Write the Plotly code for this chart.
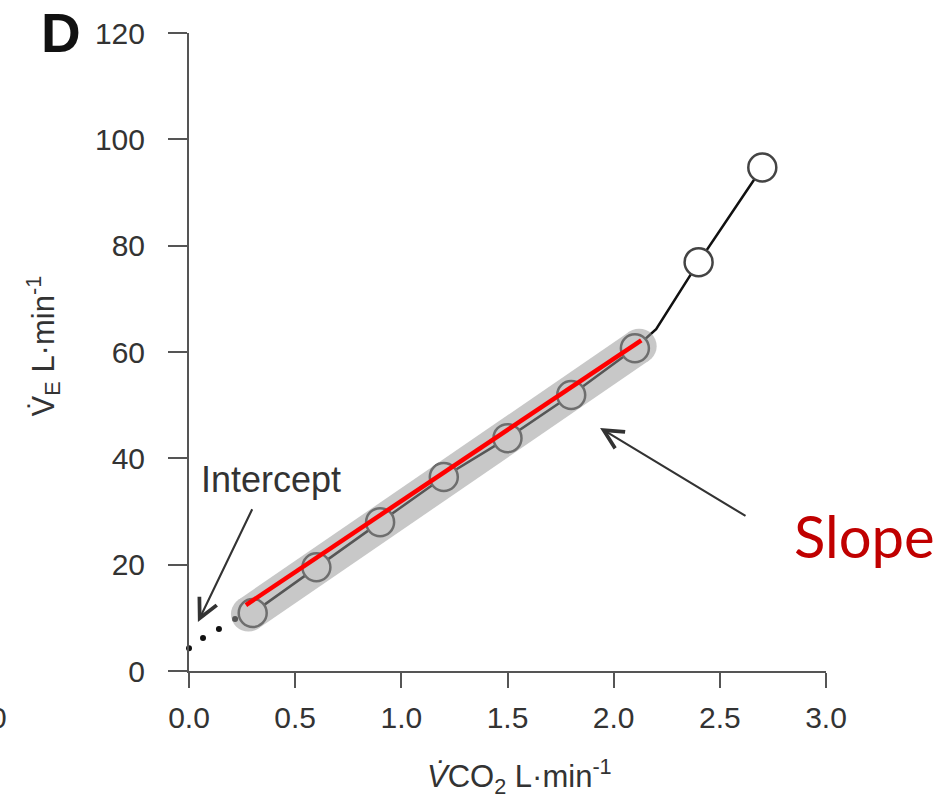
import plotly.graph_objects as go

# ---- data ----
vco2 = [0.3, 0.6, 0.9, 1.2, 1.5, 1.8, 2.1, 2.4, 2.7]
ve = [10.9, 19.5, 28.0, 36.5, 43.8, 51.9, 60.7, 76.9, 94.7]
n_linear = 7  # points inside the shaded linear region

# bend of the connecting line just after the linear region
bend_x = [2.2]
bend_y = [64.3]

# dotted extrapolation toward the intercept
dots_x = [0.0, 0.066, 0.141, 0.217]
dots_y = [4.3, 6.2, 7.9, 9.8]

# fitted slope line (red) and shaded band
fit_x = [0.268, 2.13]
fit_y = [12.4, 62.2]
band_x = [0.28, 2.12]
band_y = [10.7, 61.1]

x_ticks = [0.0, 0.5, 1.0, 1.5, 2.0, 2.5, 3.0]
x_ticklabels = ["0.0", "0.5", "1.0", "1.5", "2.0", "2.5", "3.0"]
y_ticks = [0, 20, 40, 60, 80, 100, 120]

# arrows: (tail_x, tail_y) -> (tip_x, tip_y)
intercept_arrow = dict(tip=(0.042, 9.2), tail=(0.301, 30.7))
slope_arrow = dict(tip=(1.936, 45.7), tail=(2.628, 29.0))

FONT = "Liberation Sans, Arial, sans-serif"
AX = "#555555"
TXT = "#333333"

line_x = vco2[:n_linear] + bend_x + vco2[n_linear:]
line_y = ve[:n_linear] + bend_y + ve[n_linear:]

fig = go.Figure()

# dotted extrapolation
fig.add_trace(go.Scatter(x=dots_x, y=dots_y, mode="markers",
                         marker=dict(size=6, color="#111111"),
                         cliponaxis=False, hoverinfo="skip", showlegend=False))

# connecting black line
fig.add_trace(go.Scatter(x=line_x, y=line_y, mode="lines",
                         line=dict(color="#111111", width=2.5),
                         hoverinfo="skip", showlegend=False))

# open circles
fig.add_trace(go.Scatter(x=vco2, y=ve, mode="markers",
                         marker=dict(size=28, color="white",
                                     line=dict(color="#444444", width=2.5)),
                         cliponaxis=False, hoverinfo="skip", showlegend=False))

# translucent gray band over the linear region
fig.add_trace(go.Scatter(x=band_x, y=band_y, mode="lines+markers",
                         line=dict(color="rgb(150,150,150)", width=35),
                         marker=dict(size=35, color="rgb(150,150,150)",
                                     line=dict(width=0)),
                         opacity=0.52, hoverinfo="skip", showlegend=False))

# red fitted line
fig.add_trace(go.Scatter(x=fit_x, y=fit_y, mode="lines",
                         line=dict(color="#ff0000", width=4.5),
                         hoverinfo="skip", showlegend=False))

annotations = []
for arr in (intercept_arrow, slope_arrow):
    annotations.append(dict(
        x=arr["tip"][0], y=arr["tip"][1], xref="x", yref="y",
        ax=arr["tail"][0], ay=arr["tail"][1], axref="x", ayref="y",
        text="", showarrow=True, arrowhead=5, arrowsize=1.8,
        arrowwidth=2.1, arrowcolor="#333333"))

annotations += [
    dict(text="Intercept", x=0.0157, y=0.300, xref="paper", yref="paper",
         xanchor="left", yanchor="middle", showarrow=False,
         font=dict(family=FONT, size=36, color=TXT)),
    dict(text="Slope", x=0.9466, y=0.213, xref="paper", yref="paper",
         xanchor="left", yanchor="middle", showarrow=False,
         font=dict(family="Lato, Open Sans, sans-serif", size=58, color="#C00000")),
    dict(text="<b>D</b>", x=-0.201, y=1.0, xref="paper", yref="paper",
         xanchor="center", yanchor="middle", showarrow=False,
         font=dict(family=FONT, size=55, color="#111111")),
    dict(text="V\u0307<sub>E</sub> L\u00b7min<sup>-1</sup>", x=-0.229, y=0.509,
         xref="paper", yref="paper", xanchor="center", yanchor="middle",
         textangle=-90, showarrow=False,
         font=dict(family=FONT, size=31, color=TXT)),
    dict(text="<i>V\u0307</i>CO<sub>2</sub> L\u00b7min<sup>-1</sup>", x=0.5196, y=-0.166,
         xref="paper", yref="paper", xanchor="center", yanchor="middle",
         showarrow=False, font=dict(family=FONT, size=31, color=TXT)),
    dict(text="3.0", x=-0.2826, y=-0.073, xref="paper", yref="paper",
         xanchor="right", yanchor="middle", showarrow=False,
         font=dict(family=FONT, size=30, color=TXT)),
]

fig.update_layout(
    width=943, height=808,
    margin=dict(l=189, r=117, t=33, b=137),
    paper_bgcolor="white", plot_bgcolor="white",
    showlegend=False,
    annotations=annotations,
    xaxis=dict(range=[0, 3], tickvals=x_ticks, ticktext=x_ticklabels,
               showgrid=False, zeroline=False, showline=True,
               linecolor=AX, linewidth=2, ticks="outside", ticklen=15,
               tickwidth=2, tickcolor=AX, ticklabelstandoff=4,
               tickfont=dict(family=FONT, size=30, color=TXT)),
    yaxis=dict(range=[0, 120], tickvals=y_ticks,
               showgrid=False, zeroline=False, showline=True,
               linecolor=AX, linewidth=2, ticks="outside", ticklen=19,
               tickwidth=2, tickcolor=AX, ticklabelstandoff=17,
               tickfont=dict(family=FONT, size=30, color=TXT)),
)

fig.write_html("out.html", config={"displayModeBar": False},
               post_script="document.body.style.margin='0';document.body.style.overflow='hidden';")
